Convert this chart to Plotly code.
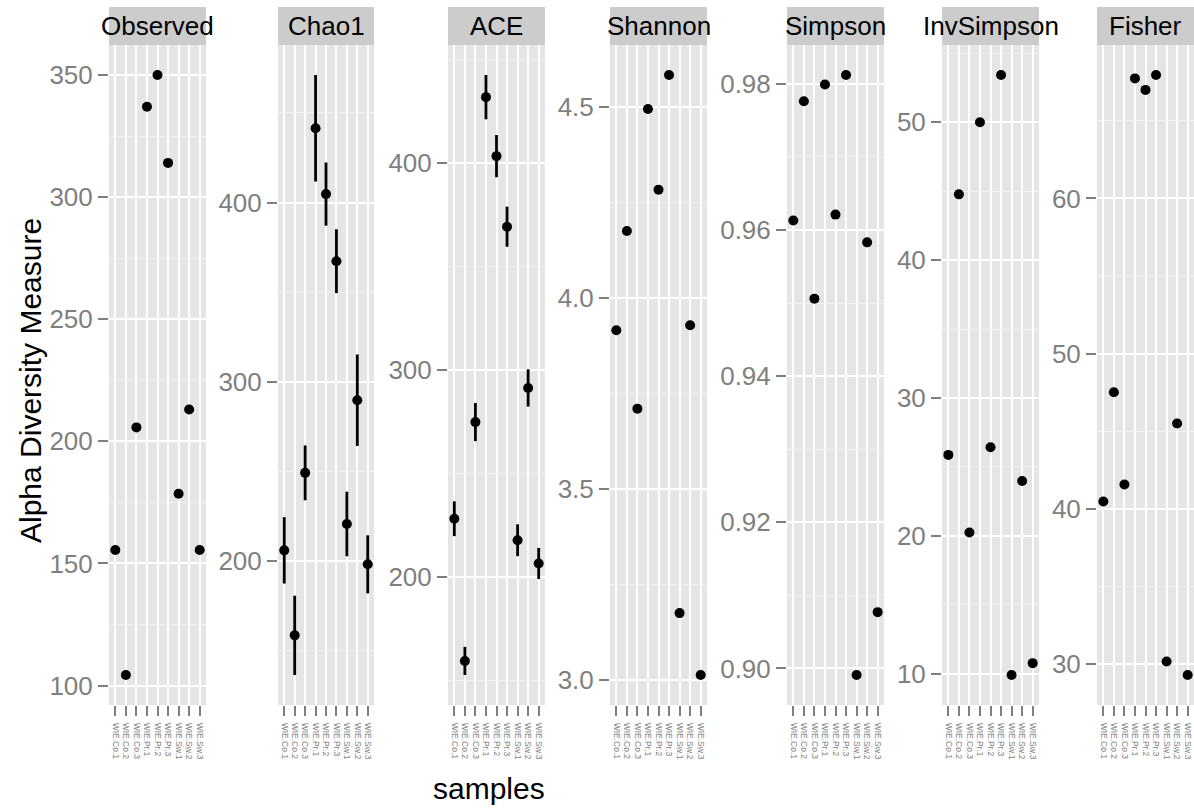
import plotly.graph_objects as go

# Samples on the x axis of every facet
samples = ["WIE.Co.1", "WIE.Co.2", "WIE.Co.3", "WIE.Pr.1", "WIE.Pr.2",
           "WIE.Pr.3", "WIE.Sw.1", "WIE.Sw.2", "WIE.Sw.3"]
measures = ["Observed", "Chao1", "ACE", "Shannon", "Simpson", "InvSimpson", "Fisher"]

# Richness / diversity estimates per sample
observed = [155.5, 104.3, 205.7, 337.0, 350.0, 314.0, 178.5, 213.0, 155.5]
chao1 = [206.1, 158.7, 249.3, 441.4, 404.7, 367.3, 220.8, 289.8, 198.3]
chao1_se = [18.5, 22.1, 15.3, 29.7, 17.6, 17.8, 18.0, 25.5, 16.2]
ace = [228.3, 159.6, 275.0, 432.0, 403.5, 369.4, 217.9, 291.5, 206.7]
ace_se = [8.4, 6.8, 9.2, 10.7, 10.2, 9.7, 7.7, 9.0, 7.5]
shannon = [3.915, 4.175, 3.710, 4.494, 4.283, 4.583, 3.175, 3.928, 3.013]
simpson = [0.9613, 0.9776, 0.9506, 0.9799, 0.9621, 0.9812, 0.8991, 0.9583, 0.9077]
invsimpson = [25.87, 44.77, 20.24, 50.0, 26.42, 53.43, 9.90, 23.98, 10.76]
fisher = [40.46, 47.50, 41.55, 67.74, 67.00, 67.96, 30.14, 45.49, 29.27]

values = {"Observed": observed, "Chao1": chao1, "ACE": ace, "Shannon": shannon,
          "Simpson": simpson, "InvSimpson": invsimpson, "Fisher": fisher}
errors = {"Chao1": chao1_se, "ACE": ace_se}

# Major tick start/step and label format per facet
tick_spec = {"Observed": (100, 50, "d"), "Chao1": (200, 100, "d"), "ACE": (200, 100, "d"),
             "Shannon": (3.0, 0.5, ".1f"), "Simpson": (0.90, 0.02, ".2f"),
             "InvSimpson": (10, 10, "d"), "Fisher": (30, 10, "d")}

W, H = 1194, 809
panel_px = [(109, 206), (278, 374), (448, 545), (610, 707),
            (787, 884), (942, 1039), (1097, 1194)]
panel_top, panel_bottom = 45, 705
strip_top = 7

GREY50 = "#7F7F7F"
FONT = "Liberation Sans, Arial, Helvetica, sans-serif"

fig = go.Figure()
layout = dict(width=W, height=H, margin=dict(l=0, r=0, t=0, b=0),
              paper_bgcolor="white", plot_bgcolor="#E5E5E5", showlegend=False,
              font=dict(family=FONT, color="black"))
shapes, annotations = [], []

ydom = [1 - panel_bottom / H, 1 - panel_top / H]
for i, m in enumerate(measures):
    k = "" if i == 0 else str(i + 1)
    vals = values[m]
    se = errors.get(m)
    trace = dict(x=samples, y=vals, mode="markers", xaxis="x" + k, yaxis="y" + k,
                 marker=dict(color="black", size=10), hoverinfo="x+y")
    if se is not None:
        trace["error_y"] = dict(type="data", array=se, visible=True,
                                color="black", thickness=2.8, width=0)
        lo = min(v - s for v, s in zip(vals, se))
        hi = max(v + s for v, s in zip(vals, se))
    else:
        lo, hi = min(vals), max(vals)
    pad = 0.05 * (hi - lo)
    fig.add_trace(go.Scatter(**trace))

    x0, x1 = panel_px[i]
    t0, dt, fmt = tick_spec[m]
    layout["xaxis" + k] = dict(
        domain=[x0 / W, x1 / W], anchor="y" + k, type="category",
        categoryorder="array", categoryarray=samples, range=[-0.6, 8.6],
        showgrid=True, gridcolor="white", gridwidth=1.8, zeroline=False,
        ticks="outside", ticklen=10, tickwidth=2.2, tickcolor=GREY50,
        ticklabelstandoff=5,
        tickangle=90, tickfont=dict(size=8.5, color=GREY50, family=FONT),
        showline=False, fixedrange=True)
    layout["yaxis" + k] = dict(
        domain=ydom, anchor="x" + k, range=[lo - pad, hi + pad],
        tickmode="linear", tick0=t0, dtick=dt, tickformat=fmt,
        showgrid=True, gridcolor="white", gridwidth=1.8, zeroline=False,
        ticks="outside", ticklen=10, tickwidth=2.2, tickcolor=GREY50,
        tickfont=dict(size=26, color=GREY50, family=FONT),
        minor=dict(showgrid=True, gridcolor="#F2F2F2", gridwidth=1,
                   tickmode="linear", tick0=t0 + dt / 2, dtick=dt),
        showline=False, fixedrange=True)

    # facet strip
    shapes.append(dict(type="rect", xref="paper", yref="paper",
                       x0=x0 / W, x1=x1 / W, y0=1 - panel_top / H, y1=1 - strip_top / H,
                       fillcolor="#CCCCCC", line=dict(width=0), layer="below"))
    annotations.append(dict(text=m, xref="paper", yref="paper",
                            x=(x0 + x1) / 2 / W, y=1 - (strip_top + panel_top) / 2 / H,
                            xanchor="center", yanchor="middle", showarrow=False,
                            font=dict(size=26, color="black", family=FONT)))

annotations.append(dict(text="samples", xref="paper", yref="paper",
                        x=489 / W, y=1 - 807 / H, xanchor="center", yanchor="bottom",
                        showarrow=False, font=dict(size=30, color="black", family=FONT)))
annotations.append(dict(text="Alpha Diversity Measure", xref="paper", yref="paper",
                        x=30 / W, y=1 - 381 / H, xanchor="center", yanchor="middle",
                        textangle=-90, showarrow=False,
                        font=dict(size=30, color="black", family=FONT)))

layout["shapes"] = shapes
layout["annotations"] = annotations
fig.update_layout(**layout)
fig.write_html("out.html")
